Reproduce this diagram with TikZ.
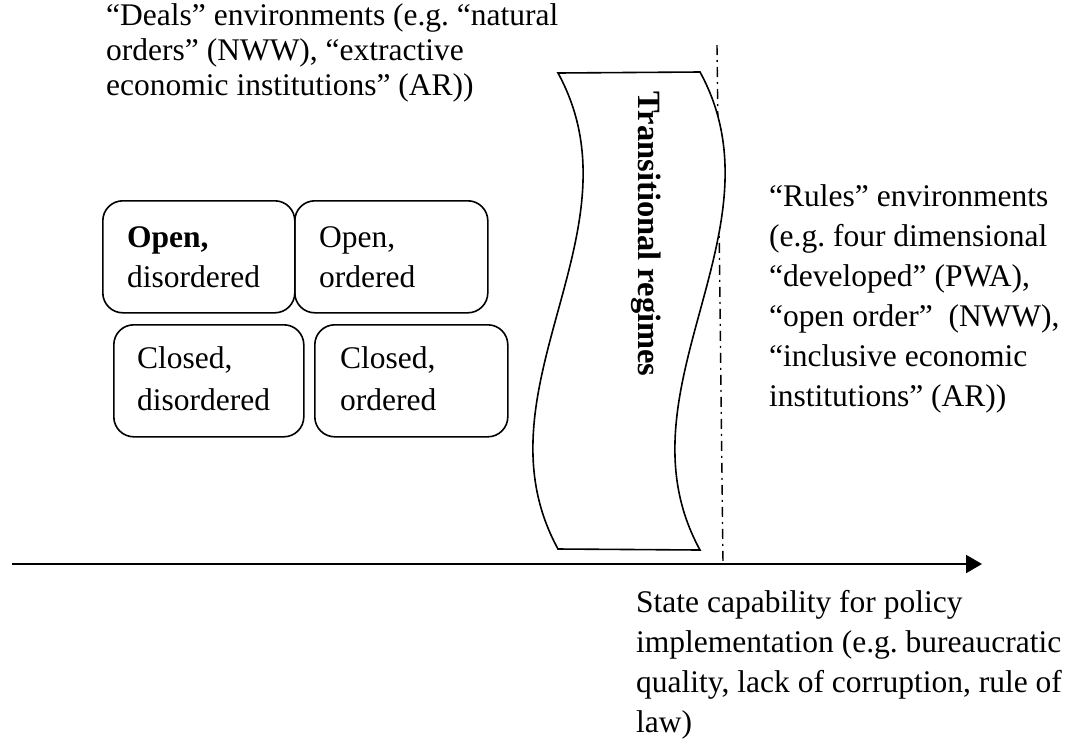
\documentclass[tikz,border=0pt]{standalone}
\usepackage{fontspec}
\setmainfont{Liberation Serif}
\usetikzlibrary{arrows.meta}
\frenchspacing
\begin{document}
\begin{tikzpicture}[x=1pt,y=-1pt,
  txt/.style={inner sep=0pt, align=left, anchor=base west},
  fsA/.style={font=\fontsize{31.5}{35}\selectfont},
  fsB/.style={font=\fontsize{31.5}{40}\selectfont},
  fsC/.style={font=\fontsize{31.5}{42}\selectfont},
  cell/.style={draw, line width=1.6pt, rounded corners=20pt, inner sep=0pt, anchor=north west},
  wave/.style={draw, line width=1.6pt, fill=white},
  dashdot/.style={line width=1.4pt, dash pattern=on 10pt off 5pt on 2pt off 5pt},
  axis/.style={line width=2pt, -{Triangle[length=16pt,width=18pt]}}]
\fill[white] (0,0) rectangle (1075,745);
\useasboundingbox (0,0) rectangle (1075,745);

% top text (anchor = baseline of last line)
\node[txt, fsA] (deals) at (106,95) {“Deals” environments (e.g. “natural\\orders” (NWW), “extractive\\economic institutions” (AR))};

% boxes
\node[cell, minimum width=192pt, minimum height=112pt] (b1) at (102,200) {};
\node[cell, minimum width=193pt, minimum height=112pt] (b2) at (294,200) {};
\node[cell, minimum width=190pt, minimum height=112pt] (b3) at (113,324) {};
\node[cell, minimum width=193pt, minimum height=112pt] (b4) at (314,324) {};
\node[txt, fsB] (t1) at (127,287) {\textbf{Open,}\\disordered};
\node[txt, fsB] (t2) at (319,287) {Open,\\ordered};
\node[txt, fsC] (t3) at (137,410) {Closed,\\disordered};
\node[txt, fsC] (t4) at (340,410) {Closed,\\ordered};

% dash-dot line
\coordinate (dtop) at (717,45);
\coordinate (dbot) at (723,564);
\draw[dashdot] (dtop) -- (dbot);

% transitional shape
\draw[wave] (558,73) .. controls (645,232) and (471,390) .. (558,549)
  -- (700,550) .. controls (613,391) and (787,231) .. (700,72) -- cycle;
\node[rotate=-90, anchor=base, inner sep=0pt, font=\fontsize{32.5}{35}\selectfont\bfseries] (trans) at (638,234) {Transitional regimes};

% axis
\coordinate (astart) at (12,564);
\coordinate (aend) at (982,564);
\draw[axis] (astart) -- (aend);

% rules text
\node[txt, fsB] (rules) at (769,406) {“Rules” environments\\(e.g. four dimensional\\“developed” (PWA),\\“open order”\ \ (NWW),\\“inclusive economic\\institutions” (AR))};

% axis label
\node[txt, fsB] (cap) at (636,732) {State capability for policy\\implementation (e.g. bureaucratic\\quality, lack of corruption, rule of\\law)};
\end{tikzpicture}
\end{document}
